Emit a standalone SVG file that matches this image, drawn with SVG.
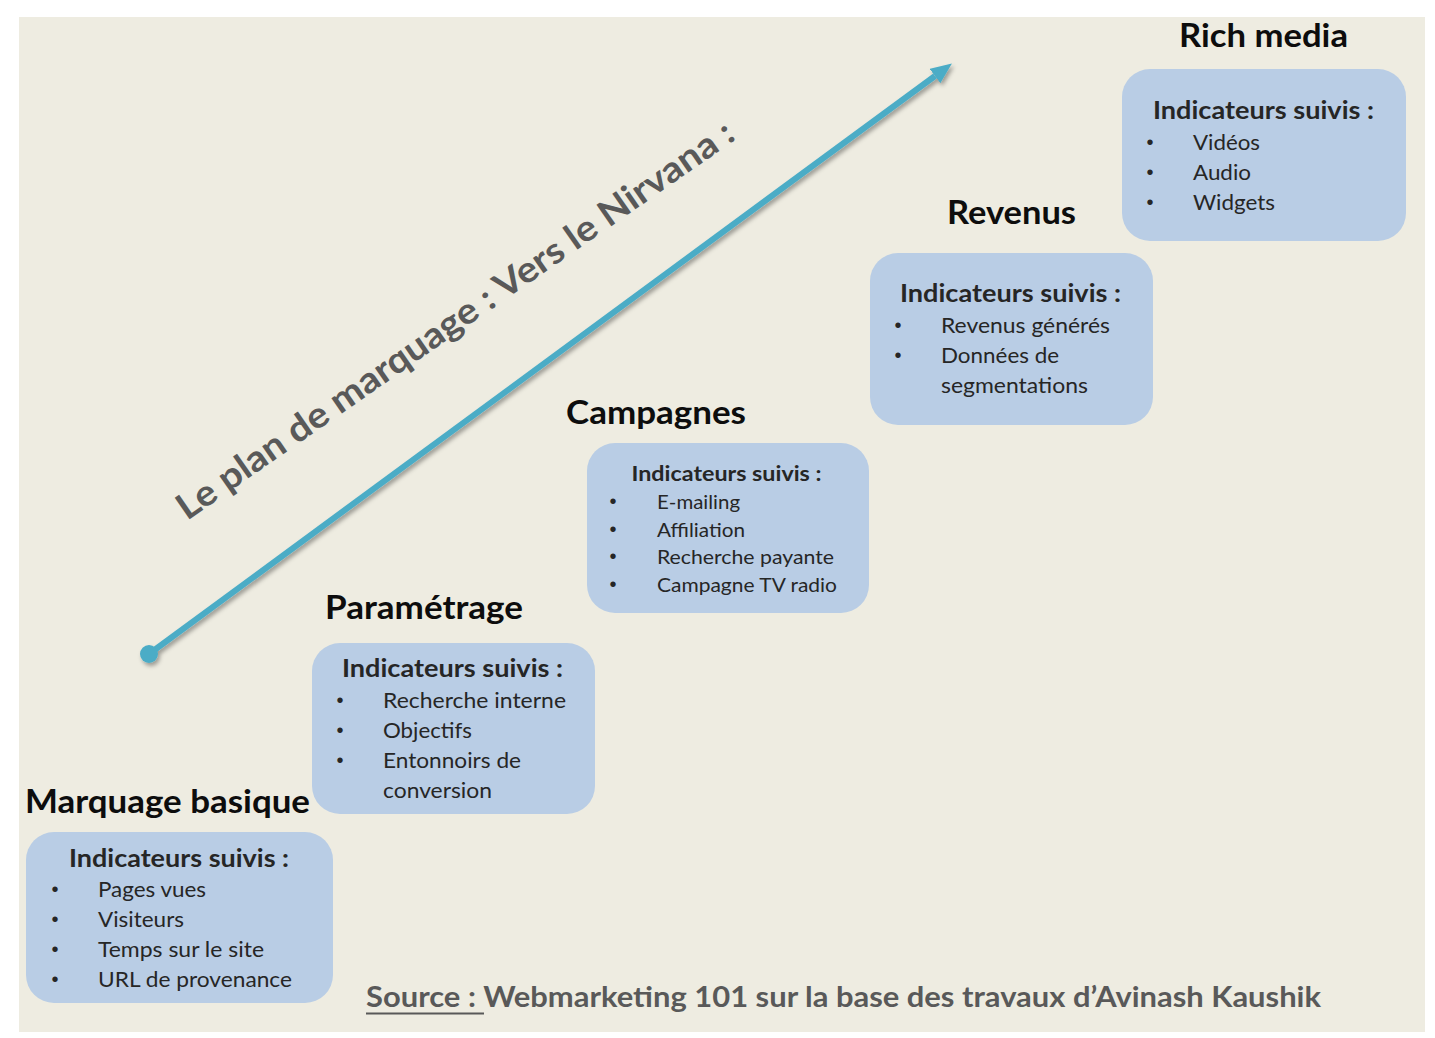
<svg xmlns="http://www.w3.org/2000/svg" width="1435" height="1038" viewBox="0 0 1435 1038">
<style>
.bg{fill:#EEECE1}
.box{fill:#B9CDE5}
.title{font-family:Lato,"Open Sans","Liberation Sans",sans-serif;font-weight:700;font-size:33px;fill:#0D0D0D}
.hdr{font-family:Lato,"Open Sans","Liberation Sans",sans-serif;font-weight:700;font-size:25px;fill:#262626;text-anchor:middle}
.hdr3{font-family:Lato,"Open Sans","Liberation Sans",sans-serif;font-weight:700;font-size:21px;fill:#262626;text-anchor:middle}
.item{font-family:Lato,"Open Sans","Liberation Sans",sans-serif;font-size:22px;fill:#262626}
.item3{font-family:Lato,"Open Sans","Liberation Sans",sans-serif;font-size:20px;fill:#262626}
.bul{font-family:"Liberation Sans",Arial,sans-serif;font-size:20px;fill:#262626;text-anchor:middle}
.gray{font-family:Lato,"Open Sans","Liberation Sans",sans-serif;font-weight:700;fill:#595959}
</style>
<defs>
<filter id="sh" x="-10%" y="-10%" width="120%" height="120%">
<feDropShadow dx="2" dy="3" stdDeviation="2" flood-color="#000" flood-opacity="0.35"/>
</filter>
<marker id="ah" markerUnits="userSpaceOnUse" markerWidth="22" markerHeight="20" refX="0" refY="9" orient="auto" viewBox="0 0 22 20">
<path d="M0,0 L21,9 L0,18 Z" fill="#4BACC6"/>
</marker>
</defs>
<rect width="1435" height="1038" fill="#FFFFFF"/>
<rect class="bg" x="19" y="17" width="1406" height="1015"/>

<g id="connectors" filter="url(#sh)">
<line x1="149" y1="654" x2="935" y2="76" stroke="#4BACC6" stroke-width="6" marker-end="url(#ah)"/>
<circle cx="149" cy="654" r="9" fill="#4BACC6"/>
</g>

<g id="label-axis">
<text class="gray" font-size="36" x="187" y="521" transform="rotate(-34.8 187 521)" textLength="670" lengthAdjust="spacingAndGlyphs">Le plan de marquage : Vers le Nirvana :</text>
</g>

<g id="node-marquage">
<text class="title" x="25" y="813" textLength="285" lengthAdjust="spacingAndGlyphs">Marquage basique</text>
<rect class="box" x="26" y="832" width="307" height="171" rx="28"/>
<text class="hdr" x="179" y="867" textLength="220" lengthAdjust="spacingAndGlyphs">Indicateurs suivis :</text>
<text class="bul" x="55" y="896">•</text>
<text class="bul" x="55" y="926">•</text>
<text class="bul" x="55" y="956">•</text>
<text class="bul" x="55" y="986">•</text>
<text class="item" x="98" y="897" textLength="108" lengthAdjust="spacingAndGlyphs">Pages vues</text>
<text class="item" x="98" y="927" textLength="86" lengthAdjust="spacingAndGlyphs">Visiteurs</text>
<text class="item" x="98" y="957" textLength="166" lengthAdjust="spacingAndGlyphs">Temps sur le site</text>
<text class="item" x="98" y="987" textLength="194" lengthAdjust="spacingAndGlyphs">URL de provenance</text>
</g>

<g id="node-parametrage">
<text class="title" x="325" y="619" textLength="198" lengthAdjust="spacingAndGlyphs">Paramétrage</text>
<rect class="box" x="312" y="643" width="283" height="171" rx="28"/>
<text class="hdr" x="452.5" y="677" textLength="221" lengthAdjust="spacingAndGlyphs">Indicateurs suivis :</text>
<text class="bul" x="340" y="707">•</text>
<text class="bul" x="340" y="737">•</text>
<text class="bul" x="340" y="767">•</text>
<text class="item" x="383" y="708" textLength="183" lengthAdjust="spacingAndGlyphs">Recherche interne</text>
<text class="item" x="383" y="738" textLength="89" lengthAdjust="spacingAndGlyphs">Objectifs</text>
<text class="item" x="383" y="768" textLength="138" lengthAdjust="spacingAndGlyphs">Entonnoirs de</text>
<text class="item" x="383" y="798" textLength="109" lengthAdjust="spacingAndGlyphs">conversion</text>
</g>

<g id="node-campagnes">
<text class="title" x="566" y="424" textLength="180" lengthAdjust="spacingAndGlyphs">Campagnes</text>
<rect class="box" x="587" y="443" width="282" height="170" rx="28"/>
<text class="hdr3" x="726.5" y="481" textLength="190" lengthAdjust="spacingAndGlyphs">Indicateurs suivis :</text>
<text class="bul" x="613" y="508" font-size="18">•</text>
<text class="bul" x="613" y="536" font-size="18">•</text>
<text class="bul" x="613" y="563" font-size="18">•</text>
<text class="bul" x="613" y="591" font-size="18">•</text>
<text class="item3" x="657" y="509" textLength="83" lengthAdjust="spacingAndGlyphs">E-mailing</text>
<text class="item3" x="657" y="537" textLength="88" lengthAdjust="spacingAndGlyphs">Affiliation</text>
<text class="item3" x="657" y="564" textLength="177" lengthAdjust="spacingAndGlyphs">Recherche payante</text>
<text class="item3" x="657" y="592" textLength="180" lengthAdjust="spacingAndGlyphs">Campagne TV radio</text>
</g>

<g id="node-revenus">
<text class="title" x="947" y="224" textLength="129" lengthAdjust="spacingAndGlyphs">Revenus</text>
<rect class="box" x="870" y="253" width="283" height="172" rx="28"/>
<text class="hdr" x="1010.5" y="302" textLength="221" lengthAdjust="spacingAndGlyphs">Indicateurs suivis :</text>
<text class="bul" x="898" y="332">•</text>
<text class="bul" x="898" y="362">•</text>
<text class="item" x="941" y="333" textLength="169" lengthAdjust="spacingAndGlyphs">Revenus générés</text>
<text class="item" x="941" y="363" textLength="118" lengthAdjust="spacingAndGlyphs">Données de</text>
<text class="item" x="941" y="393" textLength="147" lengthAdjust="spacingAndGlyphs">segmentations</text>
</g>

<g id="node-richmedia">
<text class="title" x="1179" y="47" textLength="169" lengthAdjust="spacingAndGlyphs">Rich media</text>
<rect class="box" x="1122" y="69" width="284" height="172" rx="28"/>
<text class="hdr" x="1263.5" y="119" textLength="221" lengthAdjust="spacingAndGlyphs">Indicateurs suivis :</text>
<text class="bul" x="1150" y="149">•</text>
<text class="bul" x="1150" y="179">•</text>
<text class="bul" x="1150" y="209">•</text>
<text class="item" x="1193" y="150" textLength="67" lengthAdjust="spacingAndGlyphs">Vidéos</text>
<text class="item" x="1193" y="180" textLength="58" lengthAdjust="spacingAndGlyphs">Audio</text>
<text class="item" x="1193" y="210" textLength="82" lengthAdjust="spacingAndGlyphs">Widgets</text>
</g>

<g id="source">
<text class="gray" font-size="29" x="366" y="1007" textLength="955" lengthAdjust="spacingAndGlyphs">Source : Webmarketing 101 sur la base des travaux d’Avinash Kaushik</text>
<line x1="366" y1="1013.5" x2="484" y2="1013.5" stroke="#595959" stroke-width="2"/>
</g>
</svg>
